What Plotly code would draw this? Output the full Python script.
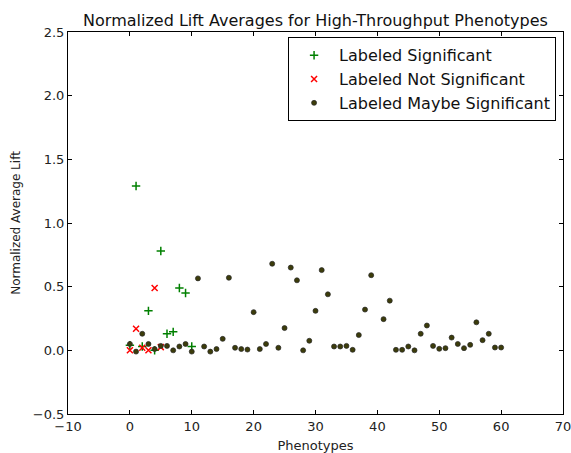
import plotly.graph_objects as go

# Labeled Significant
sig_x = [0, 1, 2, 3, 4, 5, 6, 7, 8, 9, 10]
sig_y = [0.04, 1.29, 0.03, 0.31, 0.0, 0.78, 0.13, 0.145, 0.49, 0.45, 0.03]

# Labeled Not Significant
not_x = [0, 1, 2, 3, 4, 5]
not_y = [0.0, 0.17, 0.02, 0.0, 0.49, 0.025]

# Labeled Maybe Significant
may_x = [0, 1, 2, 3, 4, 5, 6, 7, 8, 9, 10, 11, 12, 13, 14, 15, 16, 17, 18, 19, 20,
         21, 22, 23, 24, 25, 26, 27, 28, 29, 30, 31, 32, 33, 34, 35, 36, 37, 38, 39,
         41, 42, 43, 44, 45, 46, 47, 48, 49, 50, 51, 52, 53, 54, 55, 56, 57, 58, 59, 60]
may_y = [0.05, -0.01, 0.13, 0.05, 0.01, 0.035, 0.035, 0.0, 0.03, 0.05, -0.01, 0.565,
         0.03, -0.01, 0.01, 0.09, 0.57, 0.02, 0.01, 0.006, 0.30, 0.01, 0.05, 0.68,
         0.02, 0.175, 0.65, 0.55, 0.0, 0.075, 0.31, 0.63, 0.44, 0.03, 0.03, 0.035,
         0.004, 0.12, 0.32, 0.59, 0.245, 0.39, 0.004, 0.004, 0.03, 0.0, 0.13, 0.195,
         0.035, 0.012, 0.017, 0.1, 0.05, 0.017, 0.043, 0.22, 0.08, 0.13, 0.022, 0.022]

x_ticks = [-10, 0, 10, 20, 30, 40, 50, 60, 70]
y_ticks = [-0.5, 0.0, 0.5, 1.0, 1.5, 2.0, 2.5]
y_tick_text = ["\u22120.5", "0.0", "0.5", "1.0", "1.5", "2.0", "2.5"]
x_tick_text = ["\u221210", "0", "10", "20", "30", "40", "50", "60", "70"]

FONT = "DejaVu Sans, Liberation Sans, sans-serif"

fig = go.Figure()
fig.add_trace(go.Scatter(
    x=sig_x, y=sig_y, mode="markers", name="Labeled Significant",
    marker=dict(symbol="cross-thin", size=6, color="#008000",
                line=dict(color="#008000", width=1.5))))
fig.add_trace(go.Scatter(
    x=not_x, y=not_y, mode="markers", name="Labeled Not Significant",
    marker=dict(symbol="x-thin", size=6, color="#ff0000",
                line=dict(color="#ff0000", width=1.5))))
fig.add_trace(go.Scatter(
    x=may_x, y=may_y, mode="markers", name="Labeled Maybe Significant",
    marker=dict(symbol="circle", size=5, color="#3c3c0a",
                line=dict(color="rgba(40,40,40,0.9)", width=0.8))))

axis_common = dict(
    showline=True, linecolor="black", linewidth=1, mirror="ticks",
    ticks="inside", ticklen=4, tickcolor="black", tickwidth=1,
    showgrid=False, zeroline=False, ticklabeloverflow="allow",
    tickfont=dict(family=FONT, size=13, color="#222"),
)

fig.update_layout(
    width=571, height=453,
    paper_bgcolor="white", plot_bgcolor="white",
    margin=dict(l=68, r=8, t=32, b=39, autoexpand=False),
    font=dict(family=FONT, color="#222"),
    title=dict(text="Normalized Lift Averages for High-Throughput Phenotypes",
               x=0.5, xanchor="center", xref="paper",
               y=1 - 20.5 / 453, yref="container", yanchor="middle",
               font=dict(family=FONT, size=16, color="#111")),
    xaxis=dict(range=[-10, 70], tickvals=x_ticks, ticktext=x_tick_text,
               title=dict(text="Phenotypes", font=dict(family=FONT, size=13), standoff=8),
               automargin=False, **axis_common),
    yaxis=dict(range=[-0.5, 2.5], tickvals=y_ticks, ticktext=y_tick_text,
               title=dict(text="Normalized Average Lift", font=dict(family=FONT, size=12), standoff=9),
               automargin=False, **axis_common),
    legend=dict(x=0.986, y=0.986, xanchor="right", yanchor="top",
                bordercolor="black", borderwidth=1, bgcolor="white",
                font=dict(family=FONT, size=16, color="#111"),
                tracegroupgap=0, itemsizing="trace", itemwidth=40),
    showlegend=True,
)

fig.write_html("out.html", config={"displayModeBar": False},
               post_script="document.body.style.margin='0';document.body.style.overflow='hidden';")
